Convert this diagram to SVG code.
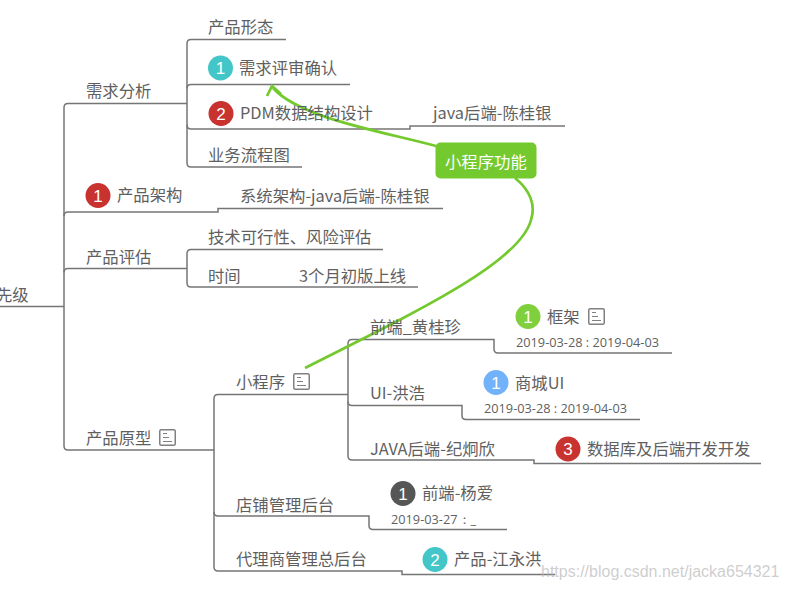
<svg xmlns="http://www.w3.org/2000/svg" width="785" height="590" viewBox="0 0 785 590">
<style>
text{font-family:"Noto Sans CJK SC","Noto Sans",sans-serif;font-size:16.35px;fill:#5f5f5f}
.d{font-family:"Open Sans","Noto Sans",sans-serif;font-size:12.75px}
.n{font-family:"Liberation Sans",sans-serif;font-size:17px;fill:#fff;text-anchor:middle}
.l{fill:none;stroke:#757575;stroke-width:1.5}
.g{fill:none;stroke:#73c92d;stroke-width:2.7}
.i{fill:#fff;stroke:#808080;stroke-width:1.5}
.il{stroke:#808080;stroke-width:1.2}
</style>
<defs>
<g id="note"><rect class="i" x="0.75" y="0.75" width="15.5" height="15.5" rx="1.5"/><path class="il" d="M4 4.500H8M4 8.500H10M4 12.500H13"/></g>
</defs>
<rect width="785" height="590" fill="#fff"/>
<g id="connectors">
<path class="l" d="M0 306.500H64"/>
<path class="l" d="M187 103.500H68Q64 103.500 64 107.500V446Q64 450 68 450H214"/>
<path class="l" d="M64 216Q64 212 68 212H218V208.500H443"/>
<path class="l" d="M64 272.500Q64 268.500 68 268.500H187"/>
<path class="l" d="M286 39.500H191Q187 39.500 187 43.500V163Q187 167 191 167H302"/>
<path class="l" d="M187 88.500Q187 84.500 191 84.500H350"/>
<path class="l" d="M187 125Q187 129 191 129H410V126H565"/>
<path class="l" d="M383 249.500H191Q187 249.500 187 253.500V283Q187 287 191 287H418"/>
<path class="l" d="M348 394.500H218Q214 394.500 214 398.500V567Q214 571 218 571H402V574.500H555"/>
<path class="l" d="M214 512Q214 516 218 516H369V525.500Q369 529.500 373 529.500H507"/>
<path class="l" d="M470 339.500H352Q348 339.500 348 343.500V456Q348 460 352 460H534V463.500H761"/>
<path class="l" d="M348 401.500Q348 405.500 352 405.500H462V415.500Q462 419.500 466 419.500H640"/>
<path class="l" d="M470 339.500H494V349Q494 353 498 353H672"/>
<path class="g" d="M515 178C530 190 536 205 531 220C520 262 420 310 305 368"/>
<path class="g" d="M436 146C380 131 300 118 273 88"/>
<path class="g" d="M267 96L272 86L281 94"/>
</g>
<text x="-4" y="301">先级</text>
<g id="n1"><text x="86" y="97">需求分析</text></g>
<g id="n2"><text x="208" y="33">产品形态</text></g>
<g id="n3"><circle cx="220.500" cy="68" r="12.500" fill="#43c6c8"/><text class="n" x="220.500" y="74">1</text><text x="239" y="74">需求评审确认</text></g>
<g id="n4"><circle cx="221" cy="113.500" r="12.500" fill="#c8322f"/><text class="n" x="221" y="119.500">2</text><text x="240" y="119">PDM数据结构设计</text></g>
<g id="n5"><text x="433" y="119">java后端-陈桂银</text></g>
<g id="n6"><text x="208" y="161">业务流程图</text></g>
<g id="n7"><circle cx="98" cy="195.500" r="12.500" fill="#c8322f"/><text class="n" x="98" y="201.500">1</text><text x="117" y="201">产品架构</text></g>
<g id="n8"><text x="240" y="202">系统架构-java后端-陈桂银</text></g>
<g id="n9"><text x="86" y="263">产品评估</text></g>
<g id="n10"><text x="208" y="243">技术可行性、风险评估</text></g>
<g id="n11"><text x="208" y="282">时间</text><text x="299" y="282">3个月初版上线</text></g>
<g id="n12"><text x="86" y="444">产品原型</text><use href="#note" x="159" y="429"/></g>
<g id="n13"><text x="236" y="388">小程序</text><use href="#note" x="293" y="373"/></g>
<g id="n14"><text x="370" y="333">前端_黄桂珍</text></g>
<g id="n15"><circle cx="528" cy="316.500" r="12.500" fill="#7fd03c"/><text class="n" x="528" y="322.500">1</text><text x="547" y="323">框架</text><use href="#note" x="588" y="308"/><text class="d" x="516" y="347">2019-03-28 : 2019-04-03</text></g>
<g id="n16"><text x="370" y="399">UI-洪浩</text></g>
<g id="n17"><circle cx="496" cy="382.500" r="12.500" fill="#72b2fb"/><text class="n" x="496" y="388.500">1</text><text x="515" y="389">商城UI</text><text class="d" x="484" y="413">2019-03-28 : 2019-04-03</text></g>
<g id="n18"><text x="370" y="455">JAVA后端-纪炯欣</text></g>
<g id="n19"><circle cx="568" cy="449" r="12.500" fill="#c8322f"/><text class="n" x="568" y="455">3</text><text x="587" y="455">数据库及后端开发开发</text></g>
<g id="n20"><text x="236" y="511">店铺管理后台</text></g>
<g id="n21"><circle cx="403" cy="493.500" r="12.500" fill="#565656"/><text class="n" x="403" y="499.500">1</text><text x="422" y="499">前端-杨爱</text><text class="d" x="391" y="524">2019-03-27：_</text></g>
<g id="n22"><text x="236" y="565">代理商管理总后台</text></g>
<g id="n23"><circle cx="435" cy="559.500" r="12.500" fill="#43c6c8"/><text class="n" x="435" y="565.500">2</text><text x="454" y="565">产品-江永洪</text></g>
<g id="n24"><rect x="435.500" y="142.500" width="101" height="36" rx="5" fill="#73c92d"/><text x="445" y="168" style="fill:#fff">小程序功能</text></g>
<text x="541" y="577" style="font-family:'Liberation Sans',sans-serif;font-size:16px;fill:#b8b8b8;fill-opacity:.7">https://blog.csdn.net/jacka654321</text>
</svg>
